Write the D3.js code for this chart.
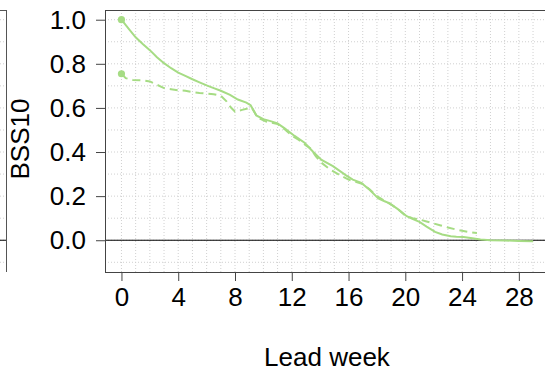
<!DOCTYPE html>
<html>
<head>
<meta charset="utf-8">
<script src="https://cdn.jsdelivr.net/npm/d3@7"></script>
<style>
  html, body { margin: 0; padding: 0; background: #fff; }
  svg { display: block; font-family: "Liberation Sans", Arial, Helvetica, sans-serif; }
</style>
</head>
<body>
<svg id="chart" width="545" height="371"></svg>
<script>
// ---- data ----
const xTicks = [0, 4, 8, 12, 16, 20, 24, 28];
const yTicks = [0.0, 0.2, 0.4, 0.6, 0.8, 1.0];
const yGrid = [-0.1, 0.0, 0.1, 0.2, 0.3, 0.4, 0.5, 0.6, 0.7, 0.8, 0.9, 1.0];
const xGrid = d3.range(0, 31, 1);

const solidWeek = [0, 0.5, 1, 1.5, 2, 2.5, 3, 3.5, 4, 4.5, 5, 5.5, 6, 6.5, 7, 7.65, 8.2, 8.8, 9.1, 9.5, 10, 10.5, 11, 11.5, 12.2, 12.9, 13.5, 14.1, 14.9, 15.8, 16.3, 16.9, 17.5, 18.1, 18.5, 18.9, 19.5, 20.1, 20.5, 21.0, 21.5, 22.1, 22.6, 23.2, 23.6, 24.1, 24.6, 25.3, 26, 27, 28, 29];
const solidBSS  = [1.00, 0.96, 0.92, 0.89, 0.862, 0.83, 0.803, 0.78, 0.76, 0.745, 0.73, 0.716, 0.702, 0.69, 0.678, 0.659, 0.638, 0.624, 0.612, 0.566, 0.549, 0.54, 0.53, 0.507, 0.473, 0.442, 0.401, 0.364, 0.336, 0.295, 0.275, 0.26, 0.228, 0.19, 0.178, 0.167, 0.14, 0.109, 0.097, 0.083, 0.062, 0.038, 0.026, 0.018, 0.016, 0.015, 0.01, 0.003, 0.0, -0.001, -0.003, -0.005];

const dashWeek = [0, 0.3, 0.8, 1.5, 2, 2.5, 3, 3.5, 4, 4.5, 5, 5.5, 6, 6.5, 7, 7.4, 7.7, 8, 8.5, 9, 9.2, 9.6, 10.2, 11, 11.5, 12, 12.5, 13, 13.3, 13.7, 14.1, 14.7, 15.6, 16, 16.5, 17, 17.5, 18, 18.5, 19, 19.5, 20, 20.5, 21, 21.5, 22, 22.5, 23, 23.5, 24, 24.5, 25.05];
const dashBSS  = [0.755, 0.735, 0.727, 0.725, 0.72, 0.705, 0.69, 0.685, 0.68, 0.678, 0.672, 0.668, 0.665, 0.662, 0.655, 0.63, 0.603, 0.583, 0.591, 0.599, 0.60, 0.555, 0.538, 0.527, 0.503, 0.475, 0.455, 0.43, 0.417, 0.38, 0.351, 0.321, 0.288, 0.275, 0.265, 0.255, 0.23, 0.20, 0.18, 0.162, 0.14, 0.112, 0.10, 0.094, 0.085, 0.076, 0.067, 0.058, 0.05, 0.043, 0.037, 0.033];

const xLabel = "Lead week";
const yLabel = "BSS10";

// ---- layout ----
const svg = d3.select("#chart");
const pL = 105, pR = 549.5, pT = 10, pB = 272;
const x = d3.scaleLinear().domain([-1.16, 30.16]).range([pL, pR]);
const y = d3.scaleLinear().domain([-0.144, 1.044]).range([pB, pT]);
const green = "#a6dc84";
const font = 26;

// clip
svg.append("defs").append("clipPath").attr("id", "clip")
  .append("rect").attr("x", pL).attr("y", pT).attr("width", pR - pL).attr("height", pB - pT);

// partial neighbouring panel at far left
const lp = svg.append("g");
lp.selectAll("line.g").data(yGrid).join("line")
  .attr("x1", 0).attr("x2", 6).attr("y1", d => y(d)).attr("y2", d => y(d))
  .attr("stroke", "#d0d0d0").attr("stroke-dasharray", "1,2");
lp.append("line").attr("x1", 0).attr("x2", 6).attr("y1", y(0)).attr("y2", y(0)).attr("stroke", "#000");
lp.append("line").attr("x1", 6.5).attr("x2", 6.5).attr("y1", pT).attr("y2", pB).attr("stroke", "#555");
lp.append("line").attr("x1", 0).attr("x2", 6.5).attr("y1", pT + 0.5).attr("y2", pT + 0.5).attr("stroke", "#555");

// grid
const plot = svg.append("g").attr("clip-path", "url(#clip)");
plot.selectAll("line.hg").data(yGrid).join("line").attr("class", "hg")
  .attr("x1", pL).attr("x2", pR).attr("y1", d => y(d)).attr("y2", d => y(d))
  .attr("stroke", "#d0d0d0").attr("stroke-dasharray", "1,2");
plot.selectAll("line.vg").data(xGrid).join("line").attr("class", "vg")
  .attr("x1", d => x(d)).attr("x2", d => x(d)).attr("y1", pT).attr("y2", pB)
  .attr("stroke", "#d0d0d0").attr("stroke-dasharray", "1,2");

// zero line
plot.append("line").attr("x1", pL).attr("x2", pR).attr("y1", y(0)).attr("y2", y(0))
  .attr("stroke", "#000").attr("stroke-width", 1);

// series
const line = d3.line().x(d => x(d[0])).y(d => y(d[1])).curve(d3.curveLinear);
const solid = solidWeek.map((w, i) => [w, solidBSS[i]]);
const dashed = dashWeek.map((w, i) => [w, dashBSS[i]]);
plot.append("path").datum(dashed).attr("d", line).attr("fill", "none")
  .attr("stroke", green).attr("stroke-width", 2).attr("stroke-dasharray", "8,5");
plot.append("path").datum(solid).attr("d", line).attr("fill", "none")
  .attr("stroke", green).attr("stroke-width", 2);
plot.append("circle").attr("cx", x(solid[0][0])).attr("cy", y(solid[0][1])).attr("r", 3.6).attr("fill", green);
plot.append("circle").attr("cx", x(dashed[0][0])).attr("cy", y(dashed[0][1])).attr("r", 3.6).attr("fill", green);

// box
svg.append("rect").attr("x", pL + 0.5).attr("y", pT + 0.5).attr("width", pR - pL).attr("height", pB - pT)
  .attr("fill", "none").attr("stroke", "#444").attr("stroke-width", 1);

// axes
const yAxis = d3.axisLeft(y).tickValues(yTicks).tickFormat(d3.format(".1f")).tickSize(9).tickPadding(10);
const gy = svg.append("g").attr("transform", `translate(${pL},0)`).call(yAxis);
gy.select(".domain").remove();
gy.selectAll(".tick line").attr("stroke", "#444");
gy.selectAll("text").attr("font-size", font).attr("fill", "#000").attr("font-family", "Liberation Sans, Arial, sans-serif");

const xAxis = d3.axisBottom(x).tickValues(xTicks).tickFormat(d3.format("d")).tickSize(9).tickPadding(7);
const gx = svg.append("g").attr("transform", `translate(0,${pB})`).call(xAxis);
gx.select(".domain").remove();
gx.selectAll(".tick line").attr("stroke", "#444");
gx.selectAll("text").attr("font-size", font).attr("fill", "#000").attr("font-family", "Liberation Sans, Arial, sans-serif");

// axis titles
svg.append("text").attr("x", 327).attr("y", 366).attr("text-anchor", "middle")
  .attr("font-size", font).attr("fill", "#000").text(xLabel);
svg.append("text").attr("transform", "rotate(-90)").attr("x", -139).attr("y", 29)
  .attr("text-anchor", "middle").attr("font-size", font).attr("fill", "#000").text(yLabel);
</script>
</body>
</html>
